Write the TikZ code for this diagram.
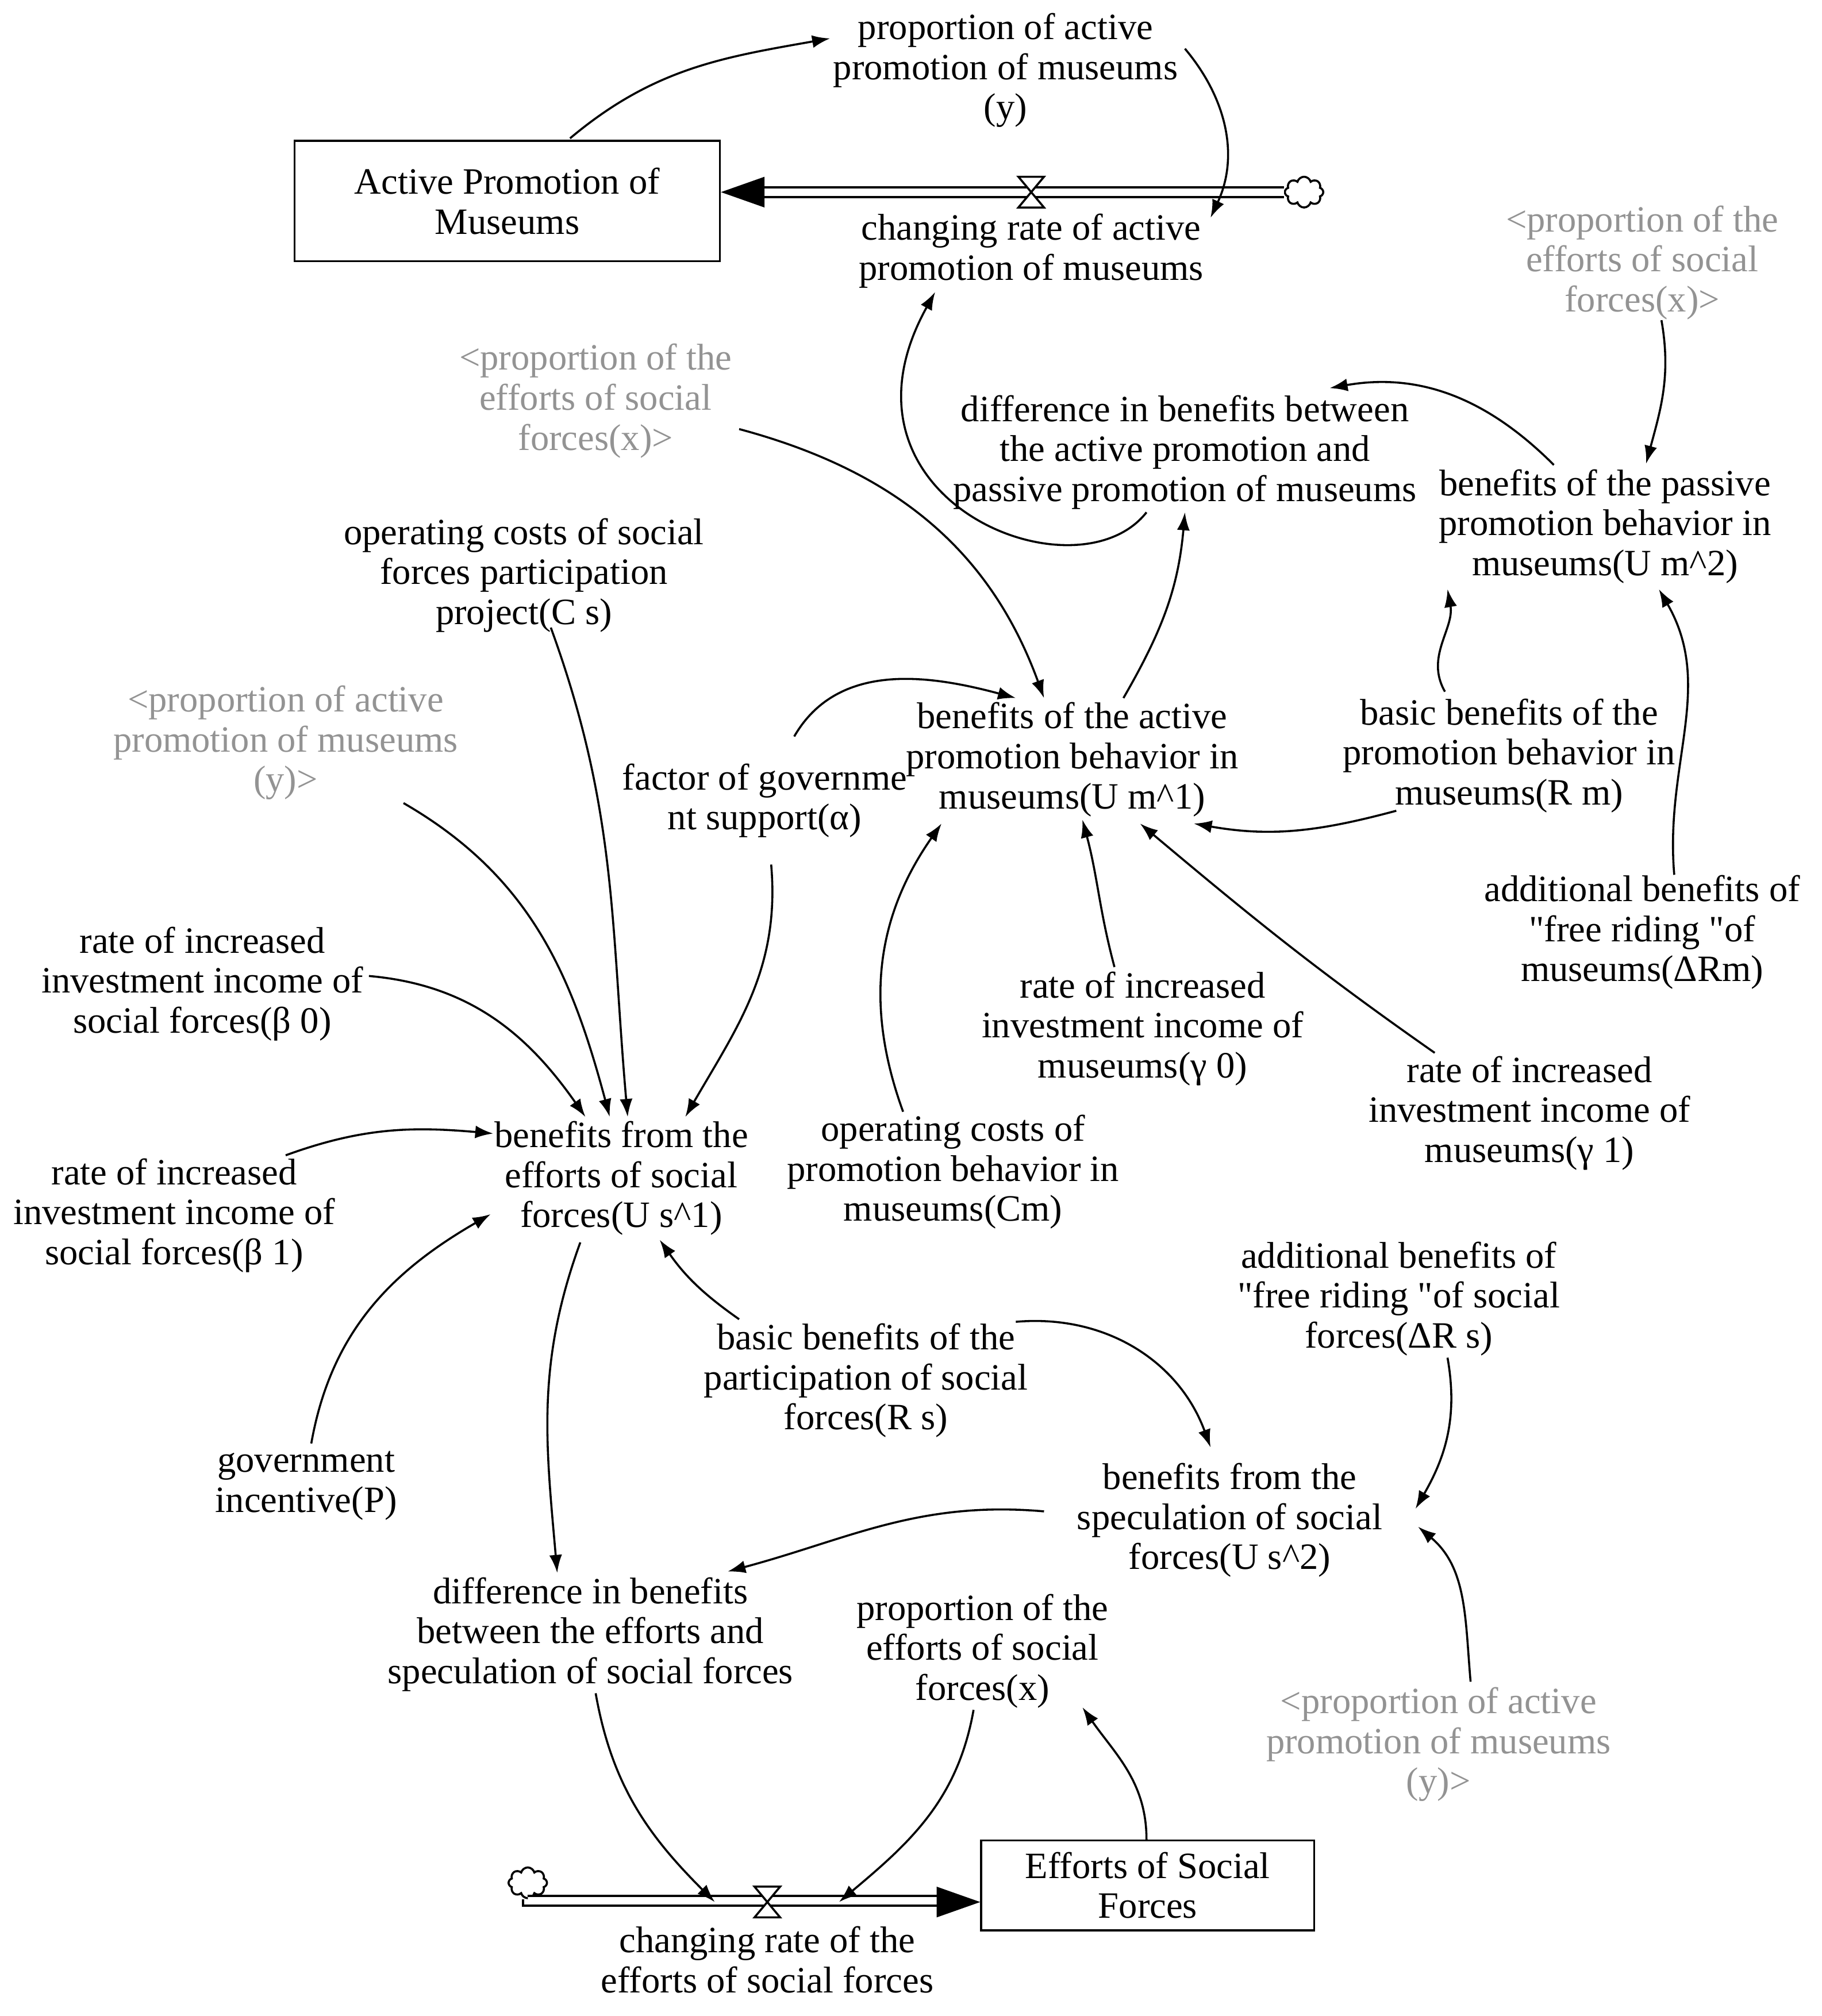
\documentclass[tikz,border=0pt]{standalone}
\usepackage{fontspec}
\setmainfont{Liberation Serif}[Ligatures=TeXOff]
\usetikzlibrary{arrows.meta,calc,shapes.symbols}
\newcommand{\qq}{\symbol{34}}
\begin{document}
\begin{tikzpicture}[x=0.5pt,y=-0.5pt,
  every node/.style={align=center,inner sep=1pt,font=\fontsize{14.5}{15.6}\selectfont},
  gr/.style={text=gray!85},
  stock/.style={draw,thick,minimum width=166pt,minimum height=47pt},
  ar/.style={-{Latex[length=7pt,width=5pt]},thick},
  pipe/.style={double,double distance=3pt,thick},
  cl/.style={cloud,draw,thick,cloud puffs=8,minimum width=15pt,minimum height=12pt,inner sep=0pt}]
\useasboundingbox (0,0) rectangle (1422,1574);
\node (ypro) at (785,55) {proportion of active\\promotion of museums\\(y)};
\node[stock] (AP) at (396,157) {Active Promotion of\\Museums};
\node[cl] (c1) at (1018,150) {};
\node (cr1) at (805,196) {changing rate of active\\promotion of museums};
\node[gr] (gx1) at (1282,205) {<proportion of the\\efforts of social\\forces(x)>};
\node[gr] (gx2) at (465,313) {<proportion of the\\efforts of social\\forces(x)>};
\node (diff) at (925,353) {difference in benefits between\\the active promotion and\\passive promotion of museums};
\node (Um2) at (1253,411) {benefits of the passive\\promotion behavior in\\museums(U m\textasciicircum 2)};
\node (Cs) at (409,449) {operating costs of social\\forces participation\\project(C s)};
\node[gr] (gy1) at (223,580) {<proportion of active\\promotion of museums\\(y)>};
\node (alpha) at (597,625) {factor of governme\\nt support(α)};
\node (Um1) at (837,593) {benefits of the active\\promotion behavior in\\museums(U m\textasciicircum 1)};
\node (Rm) at (1178,590) {basic benefits of the\\promotion behavior in\\museums(R m)};
\node (dRm) at (1282,728) {additional benefits of\\\qq free riding \qq of\\museums(ΔRm)};
\node (b0) at (158,768) {rate of increased\\investment income of\\social forces(β 0)};
\node (g0) at (892,803) {rate of increased\\investment income of\\museums(γ 0)};
\node (g1) at (1194,869) {rate of increased\\investment income of\\museums(γ 1)};
\node (Us1) at (485,920) {benefits from the\\efforts of social\\forces(U s\textasciicircum 1)};
\node (Cm) at (744,915) {operating costs of\\promotion behavior in\\museums(Cm)};
\node (b1) at (136,949) {rate of increased\\investment income of\\social forces(β 1)};
\node (dRs) at (1092,1014) {additional benefits of\\\qq free riding \qq of social\\forces(ΔR s)};
\node (Rs) at (676,1078) {basic benefits of the\\participation of social\\forces(R s)};
\node (P) at (239,1160) {government\\incentive(P)};
\node (Us2) at (960,1187) {benefits from the\\speculation of social\\forces(U s\textasciicircum 2)};
\node (diff2) at (461,1276) {difference in benefits\\between the efforts and\\speculation of social forces};
\node (x) at (767,1289) {proportion of the\\efforts of social\\forces(x)};
\node[gr] (gy2) at (1123,1362) {<proportion of active\\promotion of museums\\(y)>};
\node[stock,minimum width=130pt,minimum height=35pt] (ES) at (896,1472) {Efforts of Social\\Forces};
\node[cl] (c2) at (412,1470) {};
\node (cr2) at (599,1530) {changing rate of the\\efforts of social forces};
% flows
\coordinate (v1) at (805,150);
\coordinate (v2) at (599,1485);
\draw[pipe] (c1.west) -- ($(AP.east)+(30,-7)$);
\fill (AP.east|-v1) -- ++(34,-12) -- ++(0,24) -- cycle;
\draw[thick,fill=white] ($(v1)+(-10,-12)$) -- ($(v1)+(10,-12)$) -- ($(v1)+(-10,12)$) -- ($(v1)+(10,12)$) -- cycle;
\draw[pipe] (c2.south) |- ($(ES.west)+(-30,12)$);
\fill (ES.west|-v2) -- ++(-34,-12) -- ++(0,24) -- cycle;
\draw[thick,fill=white] ($(v2)+(-10,-12)$) -- ($(v2)+(10,-12)$) -- ($(v2)+(-10,12)$) -- ($(v2)+(10,12)$) -- cycle;
% connectors
\draw[ar] ($(AP)+(49,-49)$) to[out=40,in=190] ($(ypro)+(-137,-25)$);
\draw[ar] ($(ypro)+(140,-17)$) to[out=-50,in=65] ($(cr1)+(140,-26)$);
\draw[ar] ($(diff)+(-30,47)$) .. controls (840,470) and (640,390) .. ($(cr1)+(-75,32)$);
\draw[ar] ($(Um2)+(-40,-48)$) to[out=135,in=10] ($(diff)+(113,-50)$);
\draw[ar] ($(gx1)+(15,45)$) to[out=-80,in=75] ($(Um2)+(32,-49)$);
\draw[ar] ($(Rm)+(-50,-50)$) to[out=120,in=-80] ($(Um2)+(-123,49)$);
\draw[ar] ($(dRm)+(25,-45)$) to[out=95,in=-60] ($(Um2)+(42,49)$);
\draw[ar] ($(Um1)+(40,-48)$) to[out=60,in=-95] ($(diff)+(0,47)$);
\draw[ar] ($(gx2)+(112,22)$) to[out=-15,in=110] ($(Um1)+(-22,-48)$);
\draw[ar] ($(alpha)+(23,-50)$) to[out=60,in=165] ($(Um1)+(-44,-48)$);
\draw[ar] ($(Rm)+(-88,43)$) to[out=-165,in=-10] ($(Um1)+(95,50)$);
\draw[ar] ($(g0)+(-22,-48)$) to[out=105,in=-75] ($(Um1)+(8,47)$);
\draw[ar] ($(g1)+(-74,-47)$) to[out=145,in=-40] ($(Um1)+(53,50)$);
\draw[ar] ($(Cm)+(-39,-47)$) to[out=110,in=-125] ($(Um1)+(-102,50)$);
\draw[ar] ($(Cs)+(21,41)$) to[out=-70,in=95] ($(Us1)+(5,-48)$);
\draw[ar] ($(gy1)+(92,47)$) to[out=-30,in=105] ($(Us1)+(-9,-48)$);
\draw[ar] ($(b0)+(130,-6)$) to[out=-5,in=125] ($(Us1)+(-28,-48)$);
\draw[ar] ($(alpha)+(5,50)$) to[out=-85,in=60] ($(Us1)+(50,-48)$);
\draw[ar] ($(b1)+(87,-47)$) to[out=20,in=175] ($(Us1)+(-100,-35)$);
\draw[ar] ($(P)+(4,-33)$) to[out=80,in=-150] ($(Us1)+(-102,28)$);
\draw[ar] ($(Rs)+(-99,-48)$) to[out=145,in=-55] ($(Us1)+(30,48)$);
\draw[ar] ($(Us1)+(-32,50)$) to[out=-110,in=95] ($(diff2)+(-26,-48)$);
\draw[ar] ($(Rs)+(117,-46)$) to[out=5,in=110] ($(Us2)+(-15,-57)$);
\draw[ar] ($(dRs)+(38,46)$) to[out=-80,in=60] ($(Us2)+(145,-9)$);
\draw[ar] ($(gy2)+(25,-49)$) to[out=95,in=-40] ($(Us2)+(147,5)$);
\draw[ar] ($(Us2)+(-145,-7)$) to[out=175,in=15] ($(diff2)+(107,-49)$);
\draw[ar] ($(diff2)+(4,46)$) to[out=-80,in=135] ($(v2)+(-41,0)$);
\draw[ar] ($(x)+(-7,46)$) to[out=-100,in=40] ($(v2)+(56,0)$);
\draw[ar] ($(ES.north)+(-1,0)$) to[out=90,in=-55] ($(x)+(78,44)$);
\end{tikzpicture}
\end{document}
